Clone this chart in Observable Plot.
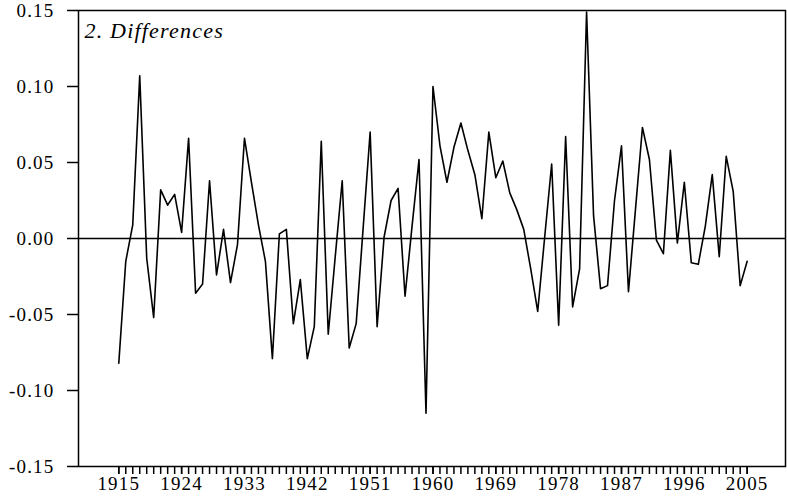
<!DOCTYPE html>
<html>
<head>
<meta charset="utf-8">
<script src="https://cdn.jsdelivr.net/npm/d3@7"></script>
<script src="https://cdn.jsdelivr.net/npm/@observablehq/plot@0.6"></script>
<style>
  html, body { margin: 0; padding: 0; background: #fff; }
  #chart svg { font-family: 'Liberation Serif', 'Times New Roman', serif; font-size: 19px; background: #fff; }
  #chart svg text { letter-spacing: 1.2px; }
</style>
</head>
<body>
<div id="chart"></div>
<script>
const title = "2. Differences";
const firstYear = 1915;
const lastYear = 2005;
const values = [
  -0.082, -0.015, 0.009, 0.107, -0.013, -0.052, 0.032, 0.022, 0.029, 0.004,
  0.066, -0.036, -0.030, 0.038, -0.024, 0.006, -0.029, -0.004, 0.066, 0.037,
  0.009, -0.015, -0.079,
  0.003, 0.006, -0.056, -0.027, -0.079, -0.058, 0.064, -0.063, -0.012, 0.038,
  -0.072, -0.056, 0.007, 0.070, -0.058, 0.001, 0.025, 0.033, -0.038, 0.008,
  0.052, -0.115, 0.100,
  0.061, 0.037, 0.060, 0.076, 0.058, 0.042, 0.013, 0.070, 0.040, 0.051,
  0.030, 0.019, 0.006, -0.020, -0.048, 0.001, 0.049, -0.057, 0.067, -0.045,
  -0.020, 0.149,
  0.015, -0.033, -0.031, 0.025, 0.061, -0.035, 0.019, 0.073, 0.052, -0.001,
  -0.010, 0.058, -0.003, 0.037, -0.016, -0.017, 0.008, 0.042, -0.012, 0.054,
  0.031, -0.031, -0.015
];
const yTicks = [-0.15, -0.10, -0.05, 0.00, 0.05, 0.10, 0.15];
const xLabelYears = [1915, 1924, 1933, 1942, 1951, 1960, 1969, 1978, 1987, 1996, 2005];

const years = d3.range(firstYear, lastYear + 1);
const data = years.map((year, i) => ({year, value: values[i]}));

const chart = Plot.plot({
  width: 787,
  height: 501,
  marginLeft: 78,
  marginRight: 2,
  marginTop: 10,
  marginBottom: 35,
  x: {domain: [1909.23, 2010.49]},
  y: {domain: [-0.15, 0.15]},
  marks: [
    Plot.axisY({
      ticks: yTicks,
      tickFormat: d => d.toFixed(2),
      tickSize: 11,
      tickPadding: 13,
      stroke: "black",
      strokeWidth: 1.5,
      fontSize: 19,
      label: null
    }),
    Plot.axisX({
      ticks: years,
      tickFormat: () => "",
      tickSize: 8,
      stroke: "black",
      strokeWidth: 1.5,
      label: null
    }),
    Plot.axisX({
      ticks: xLabelYears,
      tickFormat: d => String(d),
      tickSize: 8,
      tickPadding: 2,
      stroke: "black",
      strokeWidth: 1.5,
      fontSize: 19,
      label: null
    }),
    Plot.ruleY([0], {stroke: "black", strokeWidth: 1.5}),
    Plot.line(data, {x: "year", y: "value", stroke: "black", strokeWidth: 1.6}),
    Plot.frame({stroke: "black", strokeWidth: 1.5}),
    Plot.text([title], {
      frameAnchor: "top-left",
      dx: 6,
      dy: 12,
      fontStyle: "italic",
      fontSize: 22,
      textAnchor: "start",
      lineAnchor: "top"
    })
  ]
});
document.getElementById("chart").appendChild(chart);
</script>
</body>
</html>
